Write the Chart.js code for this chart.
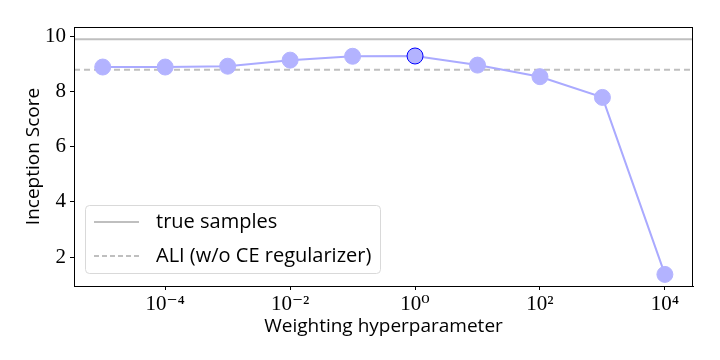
<!DOCTYPE html>
<html>
<head>
<meta charset="utf-8">
<script src="https://cdn.jsdelivr.net/npm/chart.js@4"></script>
<style>
  html, body { margin: 0; padding: 0; background: #fff; }
  #wrap { width: 720px; height: 360px; }
</style>
</head>
<body>
<div id="wrap"><canvas id="isChart"></canvas></div>
<script>
// Inception score vs weighting hyperparameter
const weights = [1e-5, 1e-4, 1e-3, 1e-2, 1e-1, 1e0, 1e1, 1e2, 1e3, 1e4];
const scores = [8.88, 8.88, 8.91, 9.13, 9.27, 9.28, 8.95, 8.53, 7.78, 1.37];
const trueSamples = 9.89;
const aliBaseline = 8.78;
const xTickExps = [-4, -2, 0, 2, 4];
const yTicks = [2, 4, 6, 8, 10];
const legendLabels = ['true samples', 'ALI (w/o CE regularizer)'];
const highlightIndex = 5;

const xMin = Math.pow(10, -5.46), xMax = Math.pow(10, 4.45);
const sup = { '-': '\u207B', '0': '\u2070', '1': '\u00B9', '2': '\u00B2', '3': '\u00B3', '4': '\u2074', '5': '\u2075' };
const supStr = n => String(n).split('').map(c => sup[c]).join('');

const serif = "'Liberation Serif', 'DejaVu Serif', serif";
const sans = "'Open Sans', 'DejaVu Sans', sans-serif";

// frame + inset legend
const extras = {
    id: 'extras',
    afterDraw(chart) {
        const { ctx, chartArea: a } = chart;
        ctx.save();
        ctx.strokeStyle = '#000';
        ctx.lineWidth = 1;
        ctx.strokeRect(a.left + 0.5, a.top + 0.5, a.right - a.left - 1, a.bottom - a.top);

        const bx = 85.5, by = 205.5, bw = 295, bh = 68, r = 4;
        ctx.beginPath();
        ctx.roundRect(bx, by, bw, bh, r);
        ctx.fillStyle = 'rgba(255,255,255,0.8)';
        ctx.fill();
        ctx.strokeStyle = '#d9d9d9';
        ctx.stroke();

        const rows = [222, 256];
        ctx.strokeStyle = '#bfbfbf';
        ctx.lineWidth = 2;
        rows.forEach((y, i) => {
            ctx.setLineDash(i === 0 ? [] : [5, 3]);
            ctx.beginPath();
            ctx.moveTo(94, y);
            ctx.lineTo(139, y);
            ctx.stroke();
        });
        ctx.setLineDash([]);
        ctx.fillStyle = '#000';
        ctx.font = '20px ' + sans;
        ctx.textBaseline = 'middle';
        rows.forEach((y, i) => ctx.fillText(legendLabels[i], 156, y));
        ctx.restore();
    }
};

const ctx = document.getElementById('isChart').getContext('2d');
const isChart = new Chart(ctx, {
    type: 'line',
    data: {
        datasets: [
            {
                data: weights.map((w, i) => ({ x: w, y: scores[i] })),
                borderColor: '#aaaaff',
                borderWidth: 2,
                pointRadius: 8,
                pointHoverRadius: 8,
                pointBackgroundColor: '#b3b3ff',
                pointBorderColor: weights.map((w, i) => i === highlightIndex ? '#0000ff' : '#b3b3ff'),
                pointBorderWidth: 1,
                tension: 0,
                order: 0
            },
            {
                data: [{ x: xMin, y: trueSamples }, { x: xMax, y: trueSamples }],
                borderColor: '#bfbfbf',
                borderWidth: 2,
                pointRadius: 0,
                order: 1
            },
            {
                data: [{ x: xMin, y: aliBaseline }, { x: xMax, y: aliBaseline }],
                borderColor: '#bfbfbf',
                borderWidth: 2,
                borderDash: [6, 4],
                pointRadius: 0,
                order: 2
            }
        ]
    },
    options: {
        responsive: true,
        maintainAspectRatio: false,
        animation: false,
        events: [],
        layout: { padding: { left: 22, right: 27, top: 27, bottom: 22 } },
        plugins: { legend: { display: false }, tooltip: { enabled: false } },
        scales: {
            x: {
                type: 'logarithmic',
                min: xMin,
                max: xMax,
                afterBuildTicks: s => { s.ticks = xTickExps.map(e => ({ value: Math.pow(10, e) })); },
                afterFit: s => { s.height = 52; },
                ticks: {
                    autoSkip: false,
                    maxRotation: 0,
                    color: '#000',
                    font: { family: serif, size: 21 },
                    padding: 2,
                    callback: v => '10' + supStr(Math.round(Math.log10(v)))
                },
                grid: { drawOnChartArea: false, tickLength: 4, color: '#000' },
                border: { color: '#000' },
                title: {
                    display: true,
                    text: 'Weighting hyperparameter',
                    color: '#000',
                    font: { family: sans, size: 19 },
                    padding: { top: 0, bottom: 0 }
                }
            },
            y: {
                min: 0.95,
                max: 10.33,
                afterBuildTicks: s => { s.ticks = yTicks.map(v => ({ value: v })); },
                afterFit: s => { s.width = 52; },
                ticks: {
                    color: '#000',
                    font: { family: serif, size: 21 },
                    padding: 4
                },
                grid: { drawOnChartArea: false, tickLength: 4, color: '#000' },
                border: { color: '#000' },
                title: {
                    display: true,
                    text: 'Inception Score',
                    color: '#000',
                    font: { family: sans, size: 19 },
                    padding: { top: 0, bottom: 0 }
                }
            }
        }
    },
    plugins: [extras]
});
</script>
</body>
</html>
